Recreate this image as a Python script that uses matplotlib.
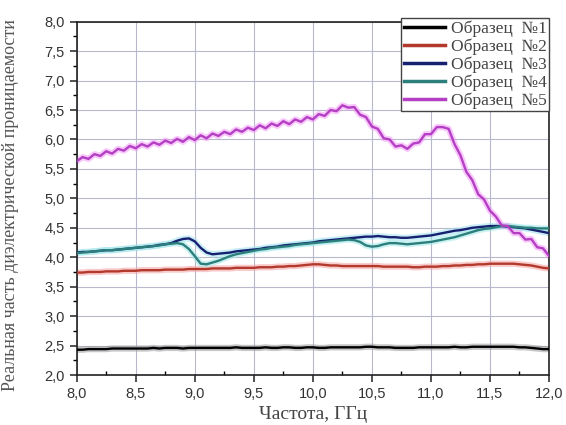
import numpy as np
import matplotlib
matplotlib.use("Agg")
import matplotlib.pyplot as plt
from matplotlib.ticker import MultipleLocator, FuncFormatter

freq = np.round(np.linspace(8.0, 12.0, 81), 2)

sample1 = [2.43, 2.43, 2.44, 2.44, 2.44, 2.44, 2.45, 2.45, 2.45, 2.45,
           2.45, 2.45, 2.45, 2.46, 2.45, 2.46, 2.46, 2.46, 2.45, 2.46,
           2.46, 2.46, 2.46, 2.46, 2.46, 2.46, 2.46, 2.47, 2.46, 2.46,
           2.46, 2.46, 2.47, 2.46, 2.46, 2.47, 2.47, 2.46, 2.46, 2.47,
           2.47, 2.46, 2.46, 2.47, 2.47, 2.47, 2.47, 2.47, 2.47, 2.48,
           2.48, 2.47, 2.47, 2.47, 2.46, 2.46, 2.46, 2.46, 2.47, 2.47,
           2.47, 2.47, 2.47, 2.47, 2.48, 2.47, 2.47, 2.48, 2.48, 2.48,
           2.48, 2.48, 2.48, 2.48, 2.48, 2.47, 2.47, 2.46, 2.45, 2.44,
           2.44]

sample2 = [3.74, 3.74, 3.75, 3.75, 3.75, 3.76, 3.76, 3.76, 3.77, 3.77,
           3.77, 3.78, 3.78, 3.78, 3.78, 3.79, 3.79, 3.79, 3.79, 3.80,
           3.80, 3.80, 3.80, 3.81, 3.81, 3.81, 3.81, 3.82, 3.82, 3.82,
           3.82, 3.83, 3.83, 3.83, 3.84, 3.84, 3.85, 3.85, 3.86, 3.87,
           3.88, 3.88, 3.87, 3.86, 3.86, 3.85, 3.85, 3.85, 3.85, 3.85,
           3.85, 3.85, 3.84, 3.84, 3.84, 3.84, 3.84, 3.83, 3.83, 3.84,
           3.84, 3.84, 3.85, 3.85, 3.86, 3.86, 3.87, 3.87, 3.88, 3.88,
           3.89, 3.89, 3.89, 3.89, 3.89, 3.88, 3.87, 3.86, 3.84, 3.82,
           3.81]

sample3 = [4.08, 4.09, 4.09, 4.10, 4.11, 4.12, 4.12, 4.13, 4.14, 4.15,
           4.16, 4.17, 4.18, 4.19, 4.21, 4.22, 4.24, 4.28, 4.31, 4.32,
           4.27, 4.16, 4.08, 4.05, 4.06, 4.07, 4.08, 4.10, 4.11, 4.12,
           4.13, 4.14, 4.16, 4.17, 4.18, 4.20, 4.21, 4.22, 4.23, 4.24,
           4.25, 4.27, 4.28, 4.29, 4.30, 4.31, 4.32, 4.33, 4.34, 4.35,
           4.35, 4.36, 4.35, 4.34, 4.34, 4.33, 4.33, 4.34, 4.35, 4.36,
           4.37, 4.39, 4.41, 4.43, 4.45, 4.46, 4.48, 4.50, 4.51, 4.52,
           4.53, 4.53, 4.53, 4.52, 4.51, 4.50, 4.49, 4.47, 4.45, 4.43,
           4.41]

sample4 = [4.07, 4.08, 4.09, 4.10, 4.11, 4.12, 4.12, 4.13, 4.14, 4.15,
           4.16, 4.17, 4.18, 4.19, 4.20, 4.22, 4.23, 4.24, 4.22, 4.14,
           4.02, 3.89, 3.88, 3.91, 3.94, 3.98, 4.02, 4.05, 4.07, 4.09,
           4.11, 4.13, 4.14, 4.16, 4.17, 4.18, 4.19, 4.21, 4.22, 4.23,
           4.24, 4.25, 4.26, 4.27, 4.28, 4.29, 4.30, 4.29, 4.26, 4.20,
           4.18, 4.19, 4.22, 4.24, 4.24, 4.23, 4.22, 4.23, 4.24, 4.25,
           4.26, 4.28, 4.30, 4.32, 4.34, 4.37, 4.40, 4.43, 4.46, 4.48,
           4.49, 4.51, 4.53, 4.53, 4.52, 4.51, 4.50, 4.50, 4.49, 4.49,
           4.49]

sample5 = [5.63, 5.70, 5.67, 5.75, 5.72, 5.80, 5.76, 5.84, 5.81, 5.89,
           5.85, 5.92, 5.88, 5.95, 5.91, 5.98, 5.94, 6.01, 5.96, 6.04,
           5.99, 6.07, 6.02, 6.10, 6.06, 6.13, 6.09, 6.17, 6.13, 6.20,
           6.16, 6.24, 6.19, 6.27, 6.23, 6.31, 6.26, 6.34, 6.30, 6.38,
           6.34, 6.43, 6.40, 6.50, 6.48, 6.58, 6.54, 6.55, 6.42, 6.38,
           6.22, 6.18, 6.02, 6.00, 5.88, 5.90, 5.84, 5.93, 5.95, 6.09,
           6.09, 6.21, 6.21, 6.18, 5.92, 5.73, 5.45, 5.31, 5.07, 4.98,
           4.79, 4.69, 4.54, 4.53, 4.41, 4.41, 4.30, 4.31, 4.17, 4.15,
           4.02]

labels = ["Образец  №1", "Образец  №2", "Образец  №3", "Образец  №4", "Образец  №5"]
series = [sample1, sample2, sample3, sample4, sample5]
colors = ["#000000", "#b2392c", "#172070", "#2c7f7c", "#b43ec4"]
glows = ["#9a9a9a", "#f4a0a0", "#9fe0f0", "#a0e8e8", "#f39cf6"]

xlabel = "Частота, ГГц"
ylabel = "Реальная часть диэлектрической проницаемости"

fig = plt.figure(figsize=(5.66, 4.25), dpi=100)
ax = fig.add_axes([0.1355, 0.1176, 0.8345, 0.8314])

for y, c, g, lab in zip(series, colors, glows, labels):
    ax.plot(freq, y, color=g, lw=4.5, alpha=0.55, solid_capstyle="round", zorder=2)
    ax.plot(freq, y, color=c, lw=1.7, label=lab, zorder=3)

ax.set_xlim(8.0, 12.0)
ax.set_ylim(2.0, 8.0)
ax.xaxis.set_major_locator(MultipleLocator(0.5))
ax.xaxis.set_minor_locator(MultipleLocator(0.25))
ax.yaxis.set_major_locator(MultipleLocator(0.5))
ax.yaxis.set_minor_locator(MultipleLocator(0.25))
fmt = FuncFormatter(lambda v, p: f"{v:.1f}".replace(".", ","))
ax.xaxis.set_major_formatter(fmt)
ax.yaxis.set_major_formatter(fmt)

ax.grid(True, which="major", color="#b8b8cc", lw=0.8)
ax.set_axisbelow(True)
for s in ax.spines.values():
    s.set_linewidth(1.2)
    s.set_color("#222222")

ax.tick_params(axis="both", which="major", direction="out", length=5, width=1.1,
               labelsize=10.5, colors="#222222", labelcolor="#333333")
ax.tick_params(axis="y", which="minor", direction="out", length=3, width=1.0)
ax.tick_params(axis="x", which="minor", direction="in", length=3, width=1.0)
for t in ax.get_xticklabels() + ax.get_yticklabels():
    t.set_family("Liberation Sans")

ax.set_xlabel(xlabel, family="Liberation Serif", fontsize=14, color="#444444", labelpad=4)
ax.set_ylabel(ylabel, family="Liberation Serif", fontsize=13, color="#555555")
ax.yaxis.set_label_coords(-0.122, 0.48)

leg = ax.legend(loc="upper right", bbox_to_anchor=(1.0, 1.01), prop={"family": "Liberation Serif", "size": 12.5},
                frameon=True, fancybox=False, framealpha=1.0, edgecolor="#444444",
                borderpad=0.15, labelspacing=0.08, handlelength=2.4, handletextpad=0.3,
                borderaxespad=0.0)
leg.get_frame().set_linewidth(1.0)
for line in leg.get_lines():
    line.set_linewidth(2.5)
for t in leg.get_texts():
    t.set_color("#444444")

fig.savefig("out.png", dpi=100)
